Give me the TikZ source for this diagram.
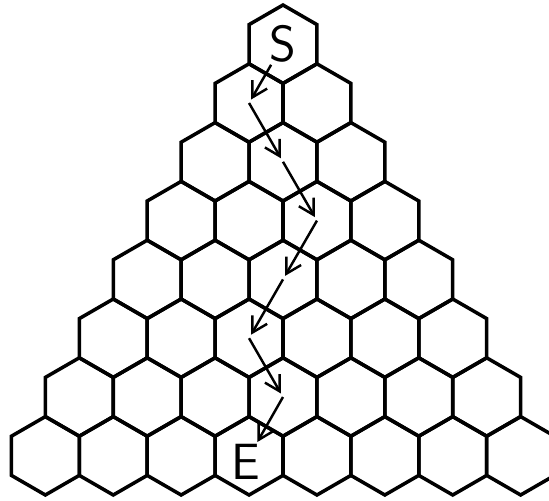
\documentclass[tikz,border=0pt]{standalone}
\usepackage{tikz}
\usetikzlibrary{arrows.meta,shapes.geometric}

\begin{document}
\begin{tikzpicture}[
    x=0.02cm, y=-0.02cm,
    hex/.style={draw, regular polygon, regular polygon sides=6, shape border rotate=30, minimum size=1.568cm, inner sep=0pt, outer sep=0pt, line width=2pt},
    lbl/.style={font=\sffamily\fontsize{29}{34}\selectfont, inner sep=1pt},
    arr/.style={-{Straight Barb[length=0.3cm, width=0.34cm]}, line width=1.4pt, shorten >=0.08cm}
]
\useasboundingbox (0,0) rectangle (549,501);
\clip (0,0) rectangle (549,501);
\foreach \r in {0,...,7}
  \foreach \k in {0,...,\r}
    \node[hex] (h\r\k) at ({283+(\k-\r/2)*67.9}, {44.2+\r*58.8}) {};

\node[lbl] (S) at (h00) {S};
\node[lbl, xshift=-0.06cm, yshift=-0.12cm] (E) at (h73) {E};

\draw[arr] (S) -- (h10.center);
\draw[arr] (h10.center) -- (h21.center);
\draw[arr] (h21.center) -- (h32.center);
\draw[arr] (h32.center) -- (h42.center);
\draw[arr] (h42.center) -- (h52.center);
\draw[arr] (h52.center) -- (h63.center);
\draw[arr, shorten >=0pt] (h63.center) -- (E);
\end{tikzpicture}
\end{document}
